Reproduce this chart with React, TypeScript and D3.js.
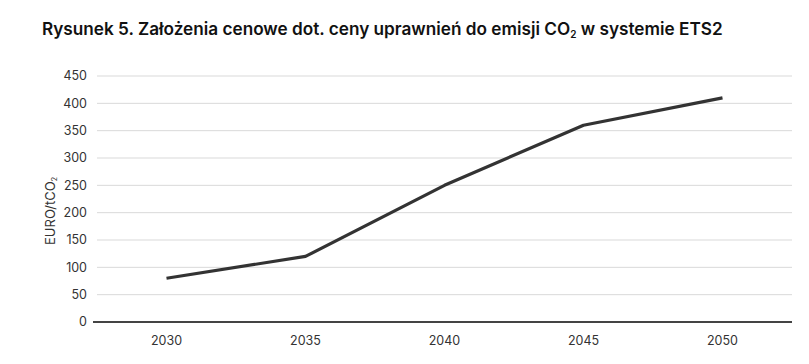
import { useEffect, useRef } from 'react'
import * as d3 from 'd3'

const years = ['2030', '2035', '2040', '2045', '2050']
const prices = [80, 120, 250, 360, 410]
const yTicks = [0, 50, 100, 150, 200, 250, 300, 350, 400, 450]

export default function App() {
  const svgRef = useRef<SVGSVGElement>(null)
  const width = 809
  const height = 364
  const margin = { top: 76, right: 17, bottom: 42, left: 97 }

  useEffect(() => {
    const svg = d3.select(svgRef.current)
    svg.selectAll('*').remove()

    const x = d3.scaleBand().domain(years).range([margin.left, width - margin.right])
    const y = d3.scaleLinear().domain([0, 450]).range([height - margin.bottom, margin.top])

    // title
    const title = svg
      .append('text')
      .attr('x', 42)
      .attr('y', 35)
      .attr('font-family', 'Inter, sans-serif')
      .attr('font-weight', 600)
      .attr('font-size', 17.2)
      .attr('fill', '#111')
    title.append('tspan').text('Rysunek 5. Założenia cenowe dot. ceny uprawnień do emisji CO')
    title.append('tspan').attr('font-size', 10).attr('dy', 3).text('2')
    title.append('tspan').attr('dy', -3).text(' w systemie ETS2')

    // grid
    svg
      .append('g')
      .selectAll('line')
      .data(yTicks.filter((d) => d > 0))
      .enter()
      .append('line')
      .attr('x1', margin.left)
      .attr('x2', width - margin.right)
      .attr('y1', (d) => y(d))
      .attr('y2', (d) => y(d))
      .attr('stroke', '#d9d9d9')
      .attr('stroke-width', 1)

    // y tick labels
    svg
      .append('g')
      .selectAll('text')
      .data(yTicks)
      .enter()
      .append('text')
      .attr('x', 87)
      .attr('y', (d) => y(d))
      .attr('dy', '0.35em')
      .attr('text-anchor', 'end')
      .attr('font-family', 'Inter, sans-serif')
      .attr('font-size', 12.5)
      .attr('fill', '#333')
      .text((d) => d)

    // zero axis
    svg
      .append('line')
      .attr('x1', margin.left - 4)
      .attr('x2', width - margin.right)
      .attr('y1', y(0))
      .attr('y2', y(0))
      .attr('stroke', '#444')
      .attr('stroke-width', 1.8)

    // x labels
    svg
      .append('g')
      .selectAll('text')
      .data(years)
      .enter()
      .append('text')
      .attr('x', (d) => x(d) + x.bandwidth() / 2)
      .attr('y', 345)
      .attr('text-anchor', 'middle')
      .attr('font-family', 'Inter, sans-serif')
      .attr('font-size', 12.5)
      .attr('fill', '#333')
      .text((d) => d)

    // y axis label
    const yl = svg
      .append('text')
      .attr('transform', `translate(55, 211) rotate(-90)`)
      .attr('text-anchor', 'middle')
      .attr('font-family', 'Inter, sans-serif')
      .attr('font-size', 13)
      .attr('fill', '#333')
    yl.append('tspan').text('EURO/tCO')
    yl.append('tspan').attr('font-size', 7).attr('dy', 2).text('2')

    // line
    const line = d3
      .line<number>()
      .x((_, i) => x(years[i]) + x.bandwidth() / 2)
      .y((d) => y(d))
    svg
      .append('path')
      .datum(prices)
      .attr('d', line)
      .attr('fill', 'none')
      .attr('stroke', '#333')
      .attr('stroke-width', 3.2)
      .attr('stroke-linejoin', 'round')
  }, [])

  return <svg ref={svgRef} width={width} height={height} style={{ position: 'absolute', left: 0, top: 0 }} />
}
